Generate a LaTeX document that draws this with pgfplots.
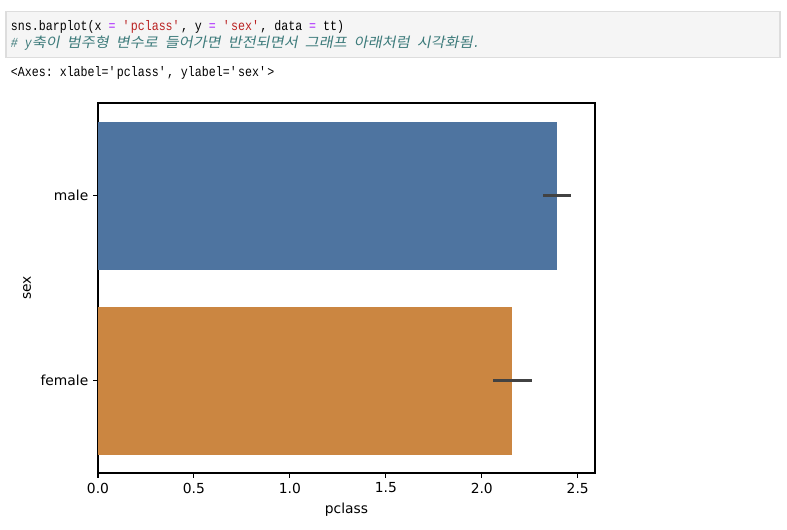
\documentclass[border=0pt]{standalone}
\usepackage{fontspec}
\usepackage{pgfplots}
\pgfplotsset{compat=1.18}
\setmainfont{DejaVu Sans}
\setmonofont{Liberation Mono}[FakeStretch=0.84]
\newfontfamily\kr{Noto Sans CJK KR}[FakeSlant=0.2, FakeStretch=1.1]
\definecolor{cellbg}{HTML}{F5F5F5}
\definecolor{cellborder}{HTML}{DDDDDD}
\definecolor{opc}{HTML}{AA22FF}
\definecolor{strc}{HTML}{BA2121}
\definecolor{cmtc}{HTML}{3D7B7B}
\definecolor{barblue}{HTML}{4E74A0}
\definecolor{barorange}{HTML}{CB8641}
\definecolor{errc}{HTML}{424242}
\newcommand\q{\textquotesingle}
\begin{document}
\begin{tikzpicture}
\useasboundingbox (0,0) rectangle (7.87in,-5.30in);
% notebook cell
\filldraw[fill=cellbg, draw=cellborder, line width=0.75pt] (0.06in,-0.113in) rectangle (7.80in,-0.573in);
\node[anchor=base west, inner sep=0pt, font=\fontsize{10}{12}\ttfamily] at (0.107in,-0.307in)
  {sns.barplot(x {\color{opc}=} {\color{strc}\q pclass\q}, y {\color{opc}=} {\color{strc}\q sex\q}, data {\color{opc}=} tt)};
\node[anchor=base west, inner sep=0pt, font=\fontsize{10}{12}\ttfamily\itshape, text=cmtc] at (0.107in,-0.472in)
  {\# y{\kr 축이} {\kr 범주형} {\kr 변수로} {\kr 들어가면} {\kr 반전되면서} {\kr 그래프} {\kr 아래처럼} {\kr 시각화됨}.};
\node[anchor=base west, inner sep=0pt, font=\fontsize{10}{12}\ttfamily] at (0.107in,-0.76in)
  {<Axes: xlabel=\q pclass\q, ylabel=\q sex\q>};
\begin{axis}[
  at={(0.98in,-4.73in)}, anchor=south west,
  scale only axis, width=4.97in, height=3.70in,
  xmin=0, xmax=2.59, ymin=-0.5, ymax=1.5, y dir=reverse,
  bar width=0.8,
  xtick={0,0.5,1,1.5,2,2.5}, ytick={0,1}, yticklabels={male,female},
  xticklabel style={/pgf/number format/fixed, /pgf/number format/fixed zerofill, /pgf/number format/precision=1},
  /pgf/number format/assume math mode=true,
  tick align=outside, xtick pos=bottom, ytick pos=left,
  major tick length=3.5pt,
  tick style={black, line width=0.75pt},
  axis line style={black, line width=0.75pt},
  font=\fontsize{10}{12}\selectfont,
  xlabel=pclass, ylabel=sex,
]
\addplot[xbar, bar shift=0pt, fill=barblue, draw=none] coordinates {(2.39,0)};
\addplot[xbar, bar shift=0pt, fill=barorange, draw=none] coordinates {(2.16,1)};
\addplot[sharp plot, errc, line width=2.7pt, line cap=rect, no markers] coordinates {(2.33,0) (2.457,0)};
\addplot[sharp plot, errc, line width=2.7pt, line cap=rect, no markers] coordinates {(2.068,1) (2.254,1)};
\end{axis}
\end{tikzpicture}
\end{document}
